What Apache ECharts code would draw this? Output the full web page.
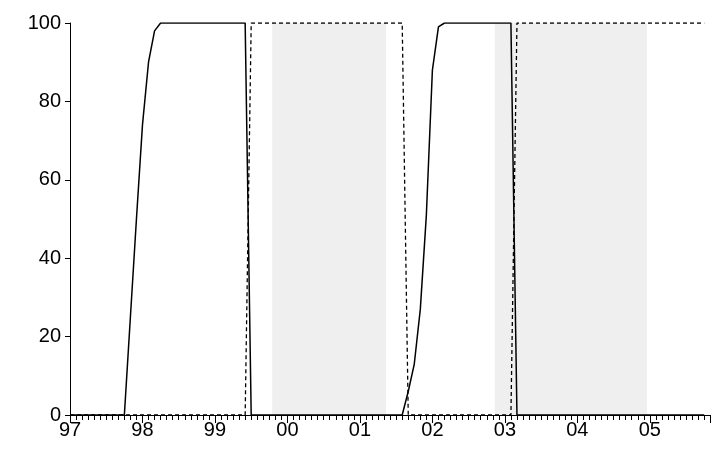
<!DOCTYPE html>
<html>
<head>
<meta charset="UTF-8">
<script src="https://cdn.jsdelivr.net/npm/echarts@6/dist/echarts.min.js"></script>
<style>
  body { margin: 0; background: #fff; }
  #chart { width: 713px; height: 451px; }
</style>
</head>
<body>
<div id="chart"></div>
<script>
// monthly values, Jan 1997 .. Oct 2005
var solid = [
  0,0,0,0,0,0,0,0,0,0, 25,50,74,90,98,
  100,100,100,100,100,100,100,100,100,100,100,100,100,100,100,
  0,0,0,0,0,0,0,0,0,0,0,0,0,0,0,0,0,0,0,0,0,0,0,0,0,0,
  6,13,27,51,88,99,
  100,100,100,100,100,100,100,100,100,100,100,100,
  0,0,0,0,0,0,0,0,0,0,0,0,0,0,0,0,0,0,0,0,0,0,0,0,0,0,0,0,0,0,0,0
];
var dashed = [
  0,0,0,0,0,0,0,0,0,0,0,0,0,0,0,0,0,0,0,0,0,0,0,0,0,0,0,0,0,0,
  100,100,100,100,100,100,100,100,100,100,100,100,100,100,100,100,100,100,100,100,100,100,100,100,100,100,
  0,
  0,0,0,0,0,0,0,0,0,0,0,0,0,0,0,0,0,
  100,100,100,100,100,100,100,100,100,100,100,100,100,100,100,100,100,100,100,100,100,100,100,100,100,100,100,100,100,100,100,100
];
var shaded = [[1999.79, 2001.36], [2002.86, 2004.96]];
var startYear = 1997;

var chart = echarts.init(document.getElementById('chart'));
function pts(arr) { return arr.map(function (v, i) { return [startYear + i / 12, v]; }); }
var font = 'Liberation Sans, Arial, sans-serif';

chart.setOption({
  animation: false,
  grid: { left: 70, right: 3, top: 23, bottom: 36, outerBoundsMode: 'none', containLabel: false },
  xAxis: [{
    type: 'value', min: 1997, max: 2005.83, interval: 1,
    axisLine: { onZero: false, lineStyle: { color: '#000', width: 1 } },
    axisTick: { length: 8, lineStyle: { color: '#000' } },
    minorTick: { show: true, splitNumber: 12, length: 5, lineStyle: { color: '#000' } },
    splitLine: { show: false },
    axisLabel: {
      color: '#000', fontSize: 20, fontFamily: font, margin: 5, showMaxLabel: false,
      formatter: function (v) { return String(Math.round(v) % 100).padStart(2, '0'); }
    }
  }, {
    type: 'value', position: 'top', min: 1997, max: 2005.83,
    axisLine: { show: true, lineStyle: { color: '#000' } },
    axisTick: { show: false }, axisLabel: { show: false }, splitLine: { show: false }
  }],
  yAxis: {
    type: 'value', min: 0, max: 100, interval: 20,
    axisLine: { show: true, lineStyle: { color: '#000' } },
    axisTick: { show: true, length: 5, lineStyle: { color: '#000' } },
    splitLine: { show: false },
    axisLabel: { color: '#000', fontSize: 20, fontFamily: font, margin: 9 }
  },
  series: [{
    type: 'line', data: pts(dashed), symbol: 'none', z: 3,
    lineStyle: { color: '#000', width: 1.3, type: [4, 3] },
    markArea: {
      silent: true,
      itemStyle: { color: '#efefef' },
      data: shaded.map(function (s) { return [{ xAxis: s[0] }, { xAxis: s[1] }]; })
    }
  }, {
    type: 'line', data: pts(solid), symbol: 'none', z: 4,
    lineStyle: { color: '#000', width: 1.5 }
  }]
});
</script>
</body>
</html>
